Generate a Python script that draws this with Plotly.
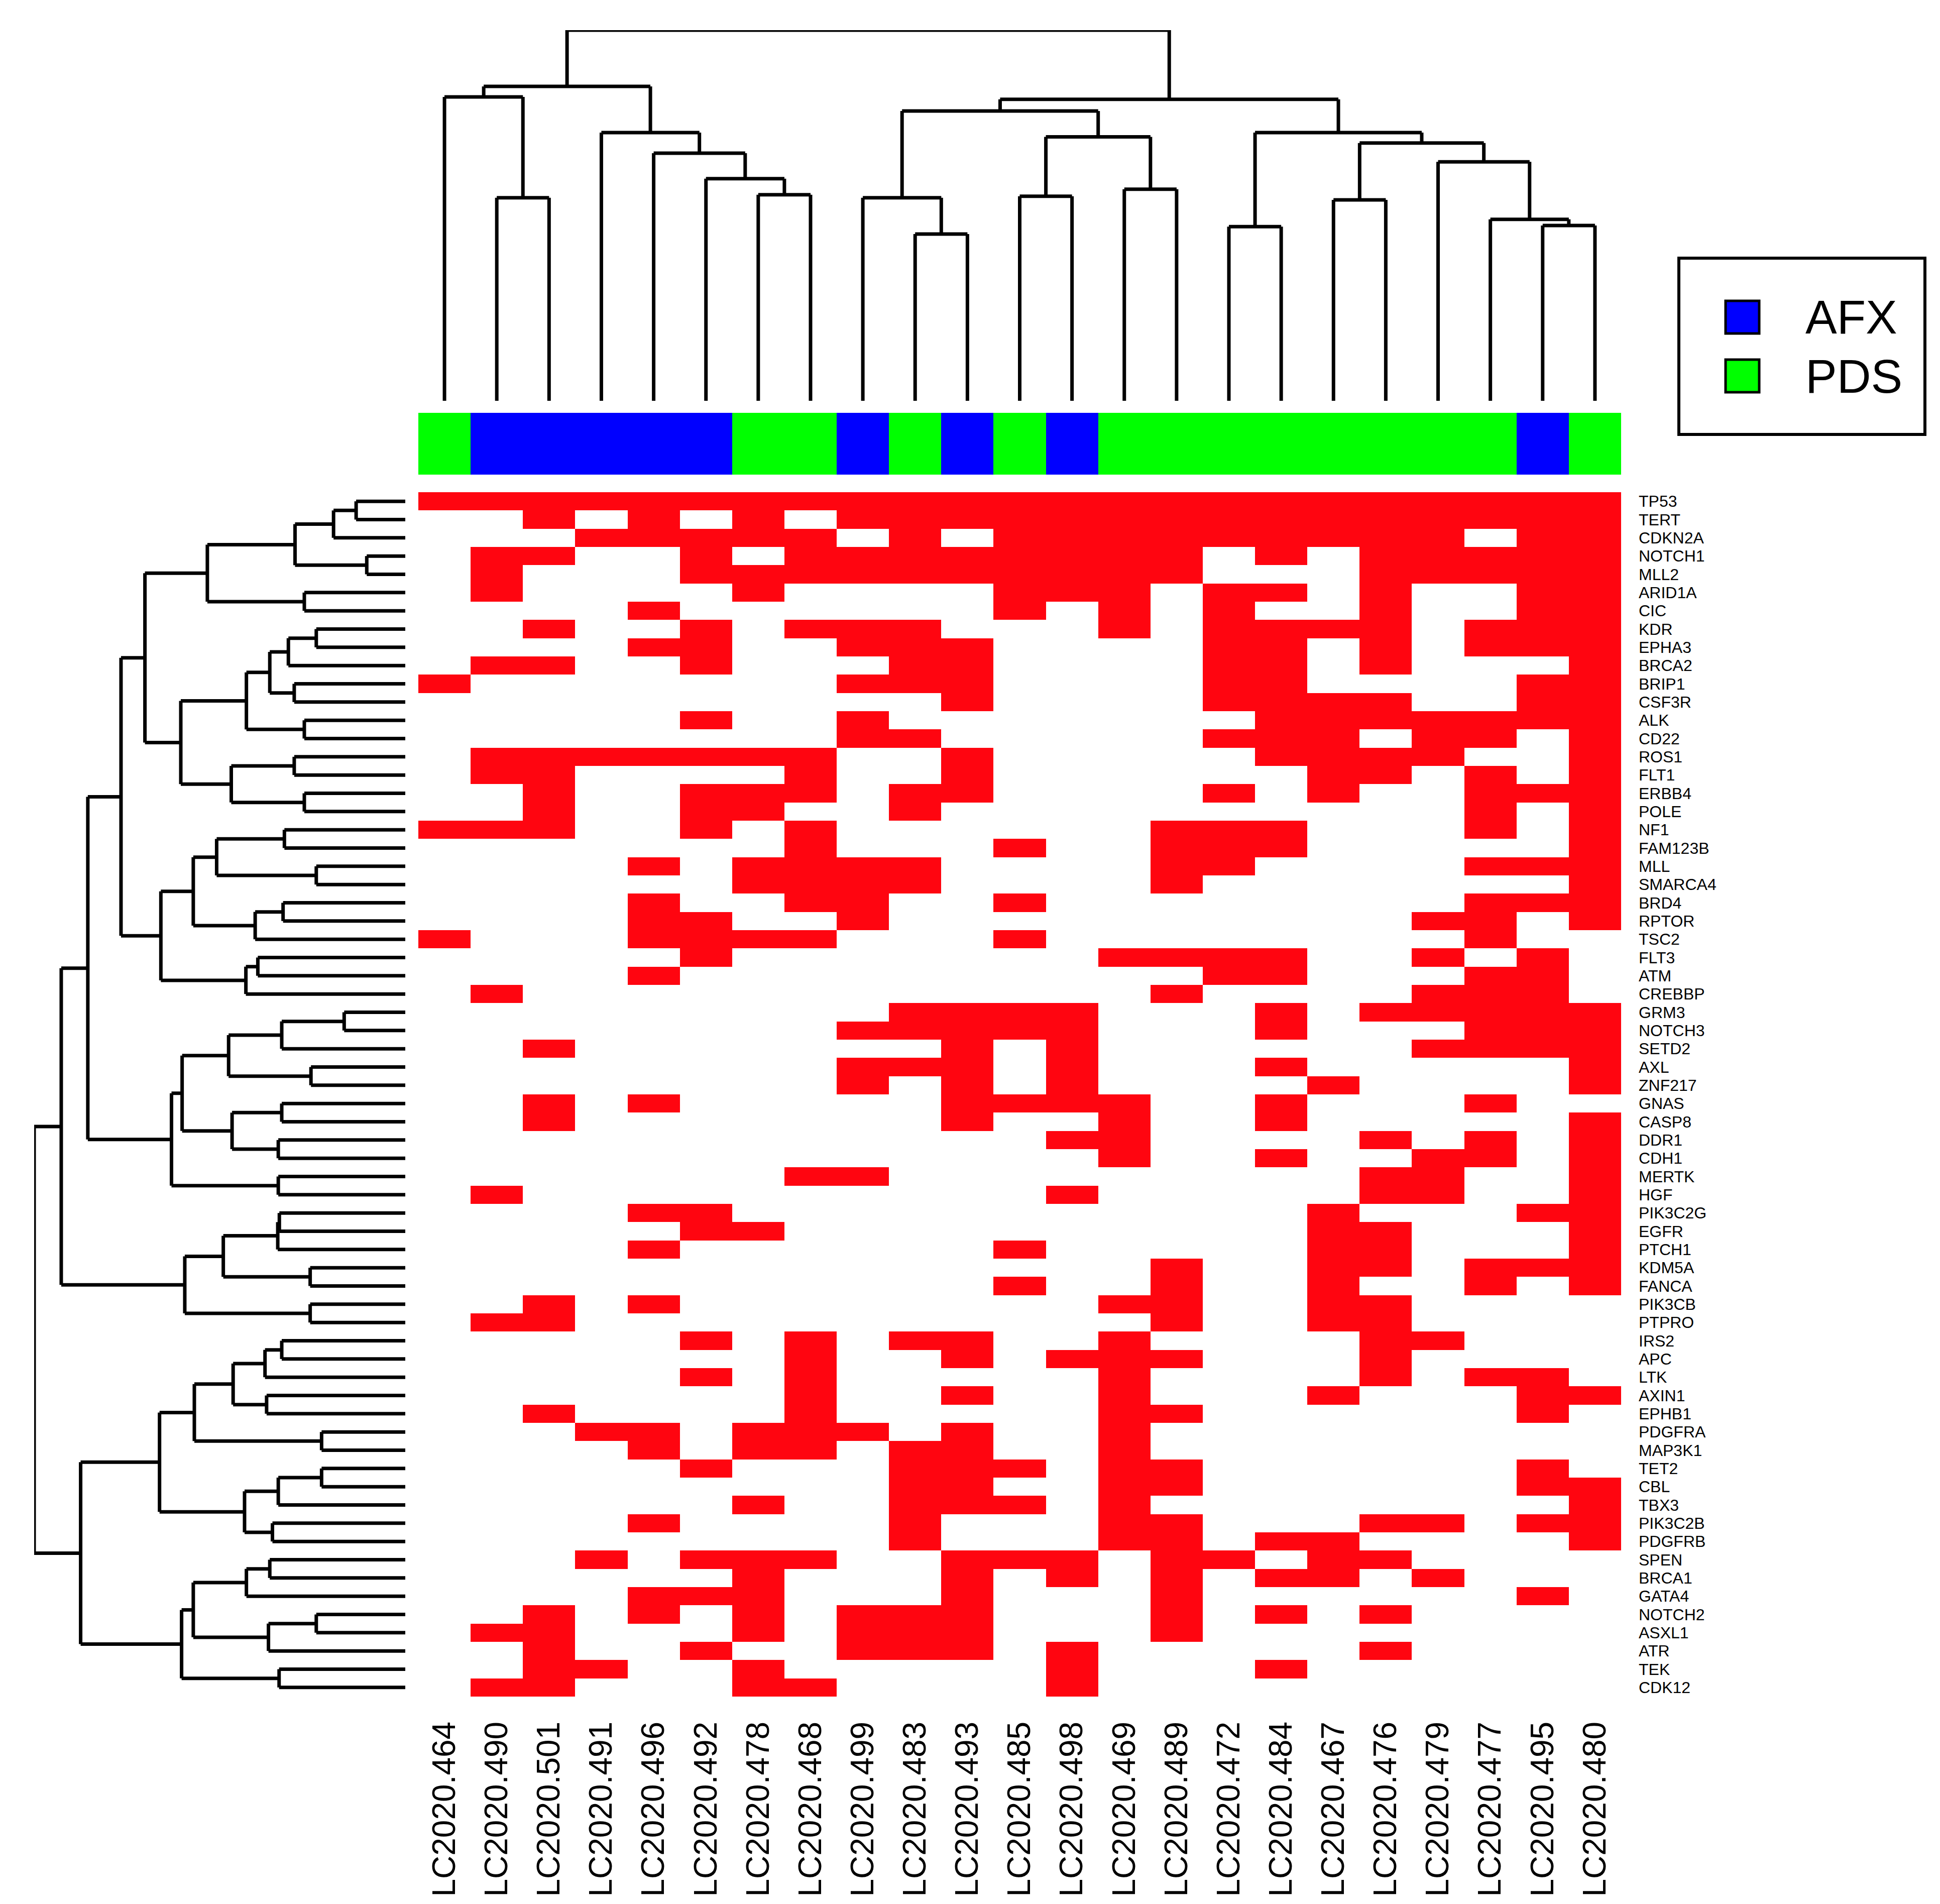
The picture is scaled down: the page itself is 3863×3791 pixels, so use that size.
import plotly.graph_objects as go

# canvas size in px
W, H = 3863, 3791

SAMPLES = ["LC2020.464", "LC2020.490", "LC2020.501", "LC2020.491", "LC2020.496",
           "LC2020.492", "LC2020.478", "LC2020.468", "LC2020.499", "LC2020.483",
           "LC2020.493", "LC2020.485", "LC2020.498", "LC2020.469", "LC2020.489",
           "LC2020.472", "LC2020.484", "LC2020.467", "LC2020.476", "LC2020.479",
           "LC2020.477", "LC2020.495", "LC2020.480"]
GROUP = ["PDS", "AFX", "AFX", "AFX", "AFX", "AFX", "PDS", "PDS", "AFX", "PDS", "AFX", "PDS",
         "AFX", "PDS", "PDS", "PDS", "PDS", "PDS", "PDS", "PDS", "PDS", "AFX", "PDS"]
GROUP_NAMES = ["AFX", "PDS"]
GROUP_COLORS = ["#0000FF", "#00FF00"]

GENES = ["TP53", "TERT", "CDKN2A", "NOTCH1", "MLL2", "ARID1A", "CIC", "KDR", "EPHA3", "BRCA2",
         "BRIP1", "CSF3R", "ALK", "CD22", "ROS1", "FLT1", "ERBB4", "POLE", "NF1", "FAM123B",
         "MLL", "SMARCA4", "BRD4", "RPTOR", "TSC2", "FLT3", "ATM", "CREBBP", "GRM3", "NOTCH3",
         "SETD2", "AXL", "ZNF217", "GNAS", "CASP8", "DDR1", "CDH1", "MERTK", "HGF", "PIK3C2G",
         "EGFR", "PTCH1", "KDM5A", "FANCA", "PIK3CB", "PTPRO", "IRS2", "APC", "LTK", "AXIN1",
         "EPHB1", "PDGFRA", "MAP3K1", "TET2", "CBL", "TBX3", "PIK3C2B", "PDGFRB", "SPEN",
         "BRCA1", "GATA4", "NOTCH2", "ASXL1", "ATR", "TEK", "CDK12"]

# 1 = mutated, one string per gene, columns in SAMPLES order
MUTATED = [
    "11111111111111111111111", "00101010111111111111111", "00011111010111111111011",
    "01100101111111101011111", "01000111111111100011111", "01000010000111011010011",
    "00001000000101010010011", "00100101110001011110111", "00001100111000011010111",
    "01100100011000011010001", "10000000111000011000011", "00000000001000011110011",
    "00000100100000001111111", "00000000110000011101101", "01111111001000001111001",
    "01100001001000000110101", "00100111011000010100111", "00100110010000000000101",
    "11100101000000111000101", "00000001000100111000001", "00001011110000110000111",
    "00000011110000100000001", "00001001100100000000111", "00001100100000000001101",
    "10001111000100000000100", "00000100000001111001010", "00001000000000011000110",
    "01000000000000100001110", "00000000011110001011111", "00000000111110001000111",
    "00100000001010000001111", "00000000111010001000001", "00000000101010000100001",
    "00101000001111001000100", "00100000001001001000001", "00000000000011000010101",
    "00000000000001001001101", "00000001100000000011001", "01000000000010000011001",
    "00001100000000000100011", "00000110000000000110001", "00001000000100000110001",
    "00000000000000100110111", "00000000000100100100101", "00101000000001100110000",
    "01100000000000100110000", "00000101011001000011000", "00000001001011100010000",
    "00000101000001000010110", "00000001001001000100011", "00100001000001100000010",
    "00011011101001000000000", "00001011011001000000000", "00000100011101100000010",
    "00000000011001100000011", "00000010011101000000001", "00001000010001100011011",
    "00000000010001101100001", "00010111001110110110000", "00000010001010101101000",
    "00001110001000100000010", "00101010111000101010000", "01100010111000100000000",
    "00100100111010000010000", "00110010000010001000000", "01100011000010000000000",
]

# linkage: (child a, child b, height); ids >= n refer to earlier merges
COL_MERGES = [
    (1, 2, 660), (0, 23, 988), (6, 7, 670), (5, 25, 722), (4, 26, 805), (3, 27, 872),
    (24, 28, 1022), (9, 10, 542), (8, 30, 660), (11, 12, 665), (13, 14, 688),
    (32, 33, 858), (31, 34, 942), (15, 16, 566), (17, 18, 653), (21, 22, 570),
    (20, 38, 590), (19, 39, 777), (37, 40, 838), (36, 41, 872), (35, 42, 980),
    (29, 43, 1205),
]
ROW_MERGES = [
    (0, 1, 185), (66, 2, 270), (3, 4, 145), (67, 68, 415), (5, 6, 380), (69, 70, 745),
    (7, 8, 335), (72, 9, 440), (10, 11, 418), (73, 74, 510), (12, 13, 380), (75, 76, 598),
    (14, 15, 418), (16, 17, 380), (78, 79, 655), (77, 80, 845), (71, 81, 980),
    (18, 19, 455), (20, 21, 335), (83, 84, 710), (22, 23, 460), (86, 24, 565),
    (85, 87, 798), (25, 26, 555), (89, 27, 600), (88, 90, 920), (82, 91, 1070),
    (28, 29, 230), (93, 30, 465), (31, 32, 355), (94, 95, 665), (33, 34, 465),
    (35, 36, 478), (97, 98, 652), (96, 99, 840), (37, 38, 478), (100, 101, 880),
    (92, 102, 1195), (39, 40, 474), (104, 41, 480), (42, 43, 358), (105, 106, 685),
    (44, 45, 358), (107, 108, 830), (103, 109, 1295), (46, 47, 465), (111, 48, 528),
    (49, 50, 522), (112, 113, 648), (51, 52, 315), (114, 115, 794), (53, 54, 315),
    (117, 55, 478), (56, 57, 500), (118, 119, 605), (116, 120, 925), (58, 59, 510),
    (122, 60, 598), (61, 62, 335), (124, 63, 515), (123, 125, 798), (64, 65, 475),
    (126, 127, 842), (121, 128, 1222), (110, 129, 1397),
]

RED = "#FF0510"
FONT = "Liberation Sans, Arial, sans-serif"


def dendro_lines(merges, n):
    pos = {i: float(i) for i in range(n)}
    hgt = {i: 0.0 for i in range(n)}
    p, h = [], []
    for k, (a, b, height) in enumerate(merges):
        for c in (a, b):
            p += [pos[c], pos[c], None]
            h += [hgt[c], height, None]
        p += [pos[a], pos[b], None]
        h += [height, height, None]
        pos[n + k] = (pos[a] + pos[b]) / 2
        hgt[n + k] = height
    return p, h


def dom_x(a, b):
    return [a / W, b / W]


def dom_y(top, bottom):
    return [1 - bottom / H, 1 - top / H]


z = [[int(c) for c in row] for row in MUTATED]
group_code = [[GROUP_NAMES.index(g) for g in GROUP]]

fig = go.Figure()

fig.add_trace(go.Heatmap(
    z=z, x=SAMPLES, y=GENES,
    colorscale=[[0, "white"], [1, RED]], zmin=0, zmax=1,
    showscale=False, hoverinfo="skip", xaxis="x", yaxis="y"))

fig.add_trace(go.Heatmap(
    z=group_code, x=SAMPLES,
    colorscale=[[0, GROUP_COLORS[0]], [0.5, GROUP_COLORS[0]],
                [0.5, GROUP_COLORS[1]], [1, GROUP_COLORS[1]]],
    zmin=0, zmax=1, showscale=False, hoverinfo="skip", xaxis="x2", yaxis="y2"))

cp, ch = dendro_lines(COL_MERGES, len(SAMPLES))
fig.add_trace(go.Scatter(x=cp, y=ch, mode="lines", line=dict(color="black", width=7),
                         hoverinfo="skip", showlegend=False, xaxis="x3", yaxis="y3"))

rp, rh = dendro_lines(ROW_MERGES, len(GENES))
fig.add_trace(go.Scatter(x=rh, y=rp, mode="lines", line=dict(color="black", width=7),
                         hoverinfo="skip", showlegend=False, xaxis="x4", yaxis="y4"))

hm_x = dom_x(825, 3220)
hm_y = dom_y(972, 3370)
nc, nr = len(SAMPLES), len(GENES)
hidden = dict(showgrid=False, zeroline=False, showticklabels=False, ticks="", showline=False)

fig.update_layout(
    width=W, height=H,
    margin=dict(l=0, r=0, t=0, b=0),
    paper_bgcolor="white", plot_bgcolor="white",
    showlegend=False,
    font=dict(family=FONT, color="black"),
    xaxis=dict(domain=hm_x, anchor="y", range=[-0.5, nc - 0.5], tickangle=-90,
               tickmode="array", tickvals=SAMPLES, ticktext=SAMPLES,
               tickfont=dict(size=64), ticks="", showgrid=False, zeroline=False,
               ticklabelstandoff=36),
    yaxis=dict(domain=hm_y, anchor="x", range=[nr - 0.5, -0.5], side="right",
               tickmode="array", tickvals=GENES, ticktext=GENES,
               tickfont=dict(size=32), ticks="", showgrid=False, zeroline=False,
               ticklabelstandoff=34),
    xaxis2=dict(domain=hm_x, anchor="y2", range=[-0.5, nc - 0.5], **hidden),
    yaxis2=dict(domain=dom_y(814, 937), anchor="x2", **hidden),
    xaxis3=dict(domain=hm_x, anchor="y3", range=[-0.5, nc - 0.5], **hidden),
    yaxis3=dict(domain=dom_y(52, 790), anchor="x3", range=[0, COL_MERGES[-1][2]], **hidden),
    xaxis4=dict(domain=dom_x(60, 799), anchor="y4", range=[ROW_MERGES[-1][2], 0], **hidden),
    yaxis4=dict(domain=hm_y, anchor="x4", range=[nr - 0.5, -0.5], **hidden),
)

# legend box drawn by hand (plotly caps legend symbol size)
shapes = [dict(type="rect", xref="paper", yref="paper",
               x0=3335 / W, x1=3825 / W, y0=1 - 857 / H, y1=1 - 506 / H,
               line=dict(color="black", width=6), fillcolor="white")]
annotations = []
for i, (name, col) in enumerate(zip(GROUP_NAMES, GROUP_COLORS)):
    top = 591 + i * 117
    shapes.append(dict(type="rect", xref="paper", yref="paper",
                       x0=3428 / W, x1=3495 / W, y0=1 - (top + 65) / H, y1=1 - top / H,
                       line=dict(color="black", width=5), fillcolor=col))
    annotations.append(dict(text=name, xref="paper", yref="paper", x=3585 / W,
                            y=1 - (top + 33) / H, xanchor="left", yanchor="middle",
                            showarrow=False, font=dict(size=94, family=FONT, color="black")))
fig.update_layout(shapes=shapes, annotations=annotations)

fig.write_html("out.html")
